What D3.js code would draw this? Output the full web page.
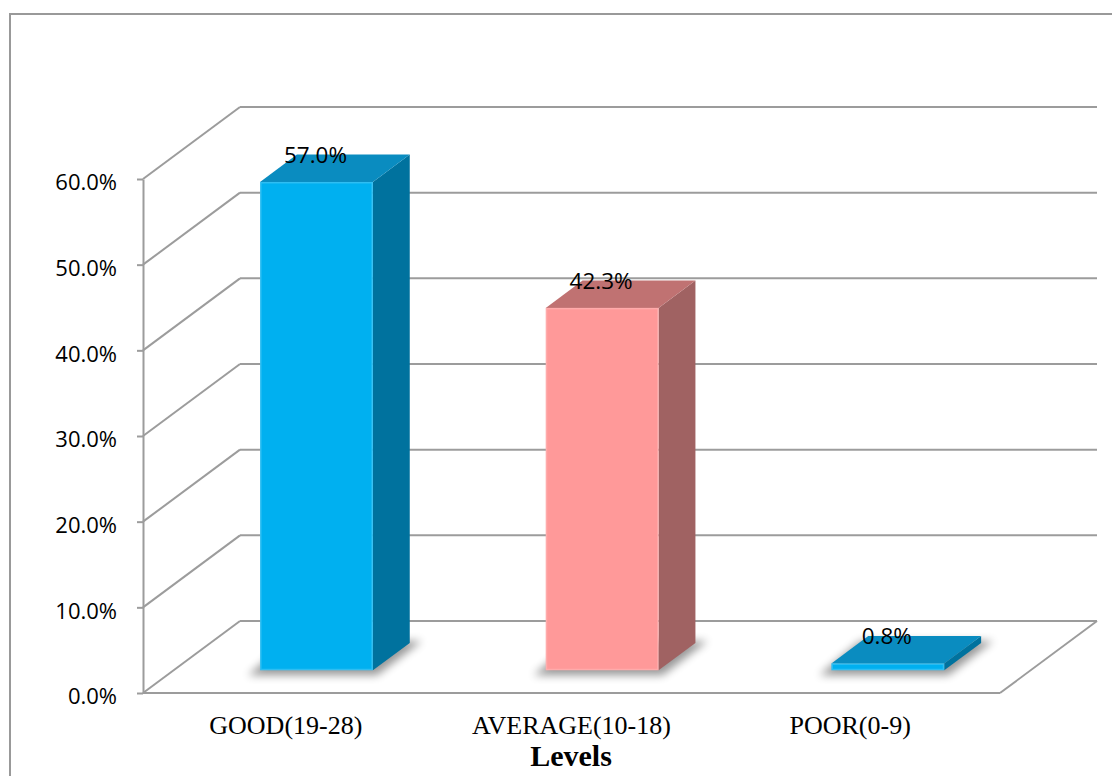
<!DOCTYPE html>
<html>
<head>
<meta charset="utf-8">
<script src="https://cdn.jsdelivr.net/npm/d3@7"></script>
<style>
  html, body { margin: 0; padding: 0; background: #fff; }
  svg { display: block; }
</style>
</head>
<body>
<svg id="chart" width="1112" height="776"></svg>
<script>
// ---- data ----
const categories = ["GOOD(19-28)", "AVERAGE(10-18)", "POOR(0-9)"];
const values = [0.570, 0.423, 0.008];
const valueLabels = ["57.0%", "42.3%", "0.8%"];
const tickValues = [0, 0.1, 0.2, 0.3, 0.4, 0.5, 0.6];
const axisTitle = "Levels";

// ---- palette (front, top, side) ----
const palette = {
  "GOOD(19-28)":    { front: "#00B0F0", top: "#0A8CC0", side: "#00729E" },
  "AVERAGE(10-18)": { front: "#FF9999", top: "#C07272", side: "#A06262" },
  "POOR(0-9)":      { front: "#00B0F0", top: "#0A8CC0", side: "#00729E" }
};

const svg = d3.select("#chart");

// layout
const left = 143, right = 1000, y0 = 693, y60 = 179;
const DX = 97, DY = -72;            // full depth vector (floor front -> back wall)
const zFront = 0.316, zBack = 0.696; // bar depth span
const barFrac = 0.395;

const x = d3.scaleBand().domain(categories).range([left, right]).padding(0);
const y = d3.scaleLinear().domain([0, 0.6]).range([y0, y60]);

const defs = svg.append("defs");
const f = defs.append("filter").attr("id", "shadow")
  .attr("x", "-20%").attr("y", "-50%").attr("width", "140%").attr("height", "200%");
f.append("feGaussianBlur").attr("stdDeviation", 4);

// outer border
svg.append("rect").attr("x", 10).attr("y", 14).attr("width", 1120).attr("height", 800)
  .attr("fill", "none").attr("stroke", "#999999").attr("stroke-width", 2);

const gridColor = "#9c9c9c";
const grid = svg.append("g").attr("stroke", gridColor).attr("stroke-width", 2).attr("fill", "none");

// back wall gridlines + side wall diagonals
tickValues.forEach(t => {
  const yf = y(t);
  grid.append("line").attr("x1", left + DX).attr("x2", right + DX)
    .attr("y1", yf + DY).attr("y2", yf + DY);
  grid.append("line").attr("x1", left).attr("x2", left + DX)
    .attr("y1", yf).attr("y2", yf + DY);
});
// floor front edge and right edge
grid.append("line").attr("x1", left).attr("x2", right).attr("y1", y0).attr("y2", y0);
grid.append("line").attr("x1", right).attr("x2", right + DX).attr("y1", y0).attr("y2", y0 + DY);

// y axis
const yAxis = d3.axisLeft(y).tickValues(tickValues).tickFormat(d3.format(".1%"))
  .tickSizeInner(6).tickSizeOuter(0).tickPadding(20);
const ga = svg.append("g").attr("transform", `translate(${left},0)`).call(yAxis);
ga.selectAll("path, line").attr("stroke", gridColor).attr("stroke-width", 2);
ga.selectAll("text").attr("font-family", "'Open Sans', sans-serif").attr("font-size", 22)
  .attr("fill", "#000").attr("dy", "0.68em").attr("y", -4);

// bars
const bw = x.bandwidth() * barFrac;
const bd = (zBack - zFront);
const bars = svg.append("g");
categories.forEach((c, i) => {
  const v = values[i];
  const col = palette[c];
  const X0 = x(c) + (x.bandwidth() - bw) / 2 + zFront * DX;
  const X1 = X0 + bw;
  const Yb = y(0) + zFront * DY;
  const Yt = y(v) + zFront * DY;
  const dx = bd * DX, dy = bd * DY;

  // shadow on floor
  const sp = [[X0 - 12, Yb + 5], [X1 + 4, Yb + 5], [X1 + dx + 12, Yb + dy - 2], [X0 + dx - 8, Yb + dy - 2]];
  bars.append("polygon").attr("points", sp.map(p => p.join(",")).join(" "))
    .attr("fill", "#000").attr("opacity", 0.4).attr("filter", "url(#shadow)");

  // side face
  bars.append("polygon")
    .attr("points", [[X1, Yt], [X1 + dx, Yt + dy], [X1 + dx, Yb + dy], [X1, Yb]].map(p => p.join(",")).join(" "))
    .attr("fill", col.side);
  // top face
  bars.append("polygon")
    .attr("points", [[X0, Yt], [X1, Yt], [X1 + dx, Yt + dy], [X0 + dx, Yt + dy]].map(p => p.join(",")).join(" "))
    .attr("fill", col.top);
  // front face
  bars.append("rect").attr("x", X0).attr("y", Yt).attr("width", bw).attr("height", Math.max(0, Yb - Yt))
    .attr("fill", col.front);
  bars.append("rect").attr("x", X0 + 0.75).attr("y", Yt + 0.75).attr("width", bw - 1.5).attr("height", Math.max(0, Yb - Yt - 1.5))
    .attr("fill", "none").attr("stroke", "#ffffff").attr("stroke-opacity", 0.18).attr("stroke-width", 1.5);

  // value label
  svg.append("text").attr("x", (X0 + X1) / 2 - 1).attr("y", Yt - 19)
    .attr("text-anchor", "middle").attr("font-family", "'Open Sans', sans-serif")
    .attr("font-size", 22.5).attr("fill", "#000").text(valueLabels[i]);
});

// category labels
svg.append("g").selectAll("text").data(categories).join("text")
  .attr("x", d => x(d) + x.bandwidth() / 2 - (d === "POOR(0-9)" ? 7 : 0))
  .attr("y", 734)
  .attr("text-anchor", "middle")
  .attr("font-family", "'Liberation Serif', 'Times New Roman', serif")
  .attr("font-size", 26).attr("fill", "#000").text(d => d);

// axis title
svg.append("text").attr("x", 571).attr("y", 766).attr("text-anchor", "middle")
  .attr("font-family", "'Liberation Serif', 'Times New Roman', serif")
  .attr("font-weight", "bold").attr("font-size", 30).attr("fill", "#000").text(axisTitle);
</script>
</body>
</html>
